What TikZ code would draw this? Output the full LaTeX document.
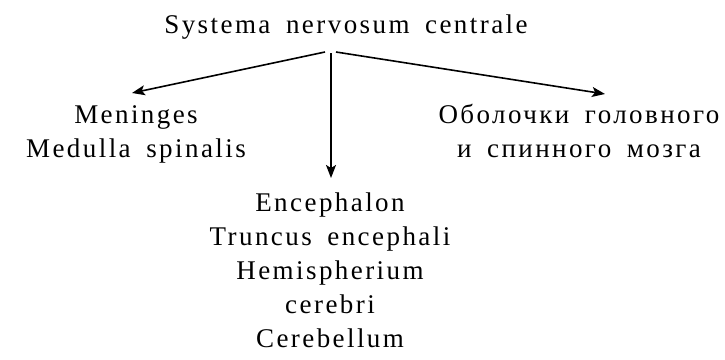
\documentclass[tikz,border=0pt]{standalone}
\usepackage{fontspec}
\setmainfont{Liberation Serif}[LetterSpace=9,WordSpace=1.7]
\usetikzlibrary{arrows.meta}
\begin{document}
\begin{tikzpicture}[x=1pt,y=-1pt,
  lbl/.style={inner sep=0pt,outer sep=0pt,align=center,anchor=base,
    font=\fontsize{27}{34}\selectfont},
  arr/.style={line width=1.6pt,-{Stealth[length=13pt,width=10pt,inset=3pt]}}]
\useasboundingbox (0,0) rectangle (725,359);
\node[lbl] (title) at (346,33) {Systema nervosum centrale};
\node[lbl] (left) at (136,157) {Meninges\\Medulla spinalis};
\node[lbl] (right) at (579,157) {Оболочки головного\\и спинного мозга};
\node[lbl] (mid) at (330,347) {Encephalon\\Truncus encephali\\Hemispherium\\cerebri\\Cerebellum};
\coordinate (sL) at (325,52);
\coordinate (sM) at (331,53);
\coordinate (sR) at (336,52);
\coordinate (eL) at (132,93);
\coordinate (eM) at (331,178);
\coordinate (eR) at (605,94);
\draw[arr] (sL) -- (eL);
\draw[arr] (sM) -- (eM);
\draw[arr] (sR) -- (eR);
\end{tikzpicture}
\end{document}
